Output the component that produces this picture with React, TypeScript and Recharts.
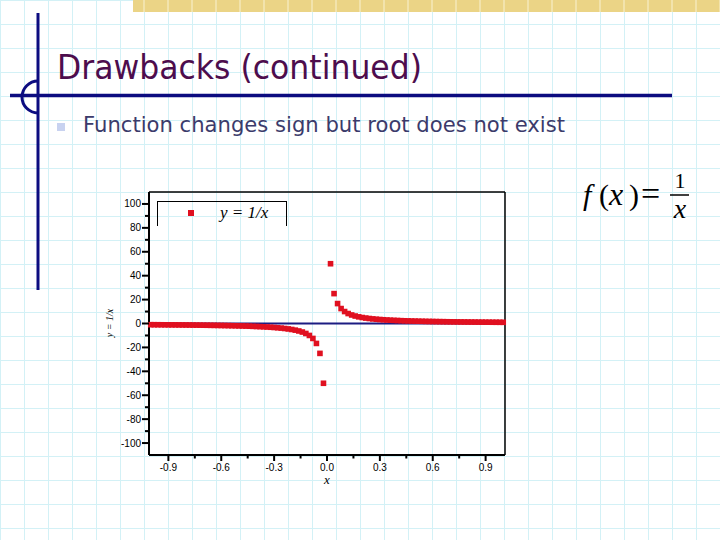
import React from "react";
import { ScatterChart, Scatter, XAxis, YAxis, ReferenceLine, Legend } from "recharts";

const negX = [
  -1, -0.98, -0.96, -0.94, -0.92, -0.9, -0.88, -0.86, -0.84, -0.82,
  -0.8, -0.78, -0.76, -0.74, -0.72, -0.7, -0.68, -0.66, -0.64, -0.62,
  -0.6, -0.58, -0.56, -0.54, -0.52, -0.5, -0.48, -0.46, -0.44, -0.42,
  -0.4, -0.38, -0.36, -0.34, -0.32, -0.3, -0.28, -0.26, -0.24, -0.22,
  -0.2, -0.18, -0.16, -0.14, -0.12, -0.1, -0.08, -0.06, -0.04, -0.02,
];
const negY = [
  -1, -1.02, -1.04, -1.06, -1.09, -1.11, -1.14, -1.16, -1.19, -1.22,
  -1.25, -1.28, -1.32, -1.35, -1.39, -1.43, -1.47, -1.52, -1.56, -1.61,
  -1.67, -1.72, -1.79, -1.85, -1.92, -2, -2.08, -2.17, -2.27, -2.38,
  -2.5, -2.63, -2.78, -2.94, -3.13, -3.33, -3.57, -3.85, -4.17, -4.55,
  -5, -5.56, -6.25, -7.14, -8.33, -10, -12.5, -16.67, -25, -50,
];
const posX = [
  0.02, 0.04, 0.06, 0.08, 0.1, 0.12, 0.14, 0.16, 0.18, 0.2,
  0.22, 0.24, 0.26, 0.28, 0.3, 0.32, 0.34, 0.36, 0.38, 0.4,
  0.42, 0.44, 0.46, 0.48, 0.5, 0.52, 0.54, 0.56, 0.58, 0.6,
  0.62, 0.64, 0.66, 0.68, 0.7, 0.72, 0.74, 0.76, 0.78, 0.8,
  0.82, 0.84, 0.86, 0.88, 0.9, 0.92, 0.94, 0.96, 0.98, 1,
];
const posY = [
  50, 25, 16.67, 12.5, 10, 8.33, 7.14, 6.25, 5.56, 5,
  4.55, 4.17, 3.85, 3.57, 3.33, 3.13, 2.94, 2.78, 2.63, 2.5,
  2.38, 2.27, 2.17, 2.08, 2, 1.92, 1.85, 1.79, 1.72, 1.67,
  1.61, 1.56, 1.52, 1.47, 1.43, 1.39, 1.35, 1.32, 1.28, 1.25,
  1.22, 1.19, 1.16, 1.14, 1.11, 1.09, 1.06, 1.04, 1.02, 1,
];

const xMajorTicks = [-0.9, -0.6, -0.3, 0, 0.3, 0.6, 0.9];
const xMinorTicks = [-0.75, -0.45, -0.15, 0.15, 0.45, 0.75];
const yMajorTicks = [-100, -80, -60, -40, -20, 0, 20, 40, 60, 80, 100];
const yMinorTicks = [-90, -70, -50, -30, -10, 10, 30, 50, 70, 90];

const points = [
  ...negX.map((x, i) => ({ x, y: negY[i] })),
  ...posX.map((x, i) => ({ x, y: posY[i] })),
];

const RED = "#e01020";
const NAVY = "#0c0c80";

function XTick({ x, y, payload }: any) {
  const v = payload.value;
  const major = xMajorTicks.includes(v);
  return (
    <g>
      <line x1={x} x2={x} y1={y} y2={y + (major ? 6 : 3.5)} stroke="#000" strokeWidth={2} />
      {major && (
        <text x={x} y={y + 16} textAnchor="middle" fontSize={10} fontFamily="Liberation Sans" fill="#000">
          {v.toFixed(1)}
        </text>
      )}
    </g>
  );
}

function YTick({ x, y, payload }: any) {
  const v = payload.value;
  const major = yMajorTicks.includes(v);
  return (
    <g>
      <line x1={x} x2={x - (major ? 7 : 4)} y1={y} y2={y} stroke="#000" strokeWidth={2} />
      {major && (
        <text x={x - 8} y={y} dy="0.35em" textAnchor="end" fontSize={10} fontFamily="Liberation Sans" fill="#000">
          {v}
        </text>
      )}
    </g>
  );
}

function Square(props: any) {
  const { cx, cy } = props;
  return <rect x={cx - 2.8} y={cy - 2.8} width={5.6} height={5.6} fill={RED} />;
}

function LegendBox() {
  return (
    <div
      style={{
        position: "relative",
        width: 130,
        height: 25,
        boxSizing: "border-box",
        borderTop: "1.5px solid #000",
        borderLeft: "1.5px solid #000",
        borderRight: "1.5px solid #000",
      }}
    >
      <div style={{ position: "absolute", left: 30, top: 8, width: 6, height: 6, background: RED }} />
      <span
        style={{
          position: "absolute",
          left: 62,
          top: 1,
          fontFamily: "Liberation Serif",
          fontStyle: "italic",
          fontSize: 17,
          color: "#000",
          whiteSpace: "nowrap",
        }}
      >
        y = 1/x
      </span>
    </div>
  );
}

function Slide() {
  return (
    <svg width={720} height={540} style={{ position: "absolute", left: 0, top: 0 }}>
      <rect x={133} y={0} width={587} height={12} fill="#ebd486" />
      {Array.from({ length: 25 }, (_, i) => 144 + i * 24).map((gx) => (
        <line key={gx} x1={gx} x2={gx} y1={0} y2={12} stroke="#f4e8b8" strokeWidth={1.5} />
      ))}
      <line x1={38} x2={38} y1={13} y2={290} stroke={NAVY} strokeWidth={3} />
      <line x1={10} x2={672} y1={95.5} y2={95.5} stroke={NAVY} strokeWidth={3.5} />
      <path d="M 38 81 A 16 16 0 0 0 38 113" fill="none" stroke={NAVY} strokeWidth={3} />
      <text
        x={57}
        y={79}
        fontFamily="DejaVu Sans"
        fontSize={34}
        fill="#4d0d4d"
        textLength={365}
        lengthAdjust="spacingAndGlyphs"
      >
        Drawbacks (continued)
      </text>
      <rect x={57} y={123} width={8} height={8} fill="#c8d2f0" />
      <text
        x={83}
        y={132}
        fontFamily="DejaVu Sans"
        fontSize={22}
        fill="#3b3b6b"
        textLength={482}
        lengthAdjust="spacingAndGlyphs"
      >
        Function changes sign but root does not exist
      </text>
      <g fontFamily="Liberation Serif" fill="#000">
        <text x={583} y={205} fontSize={30} fontStyle="italic">f</text>
        <text x={599} y={205} fontSize={30}>(</text>
        <text x={609} y={205} fontSize={32} fontStyle="italic">x</text>
        <text x={629} y={205} fontSize={30}>)</text>
        <text x={641} y={205} fontSize={34}>=</text>
        <text x={680} y={188} fontSize={22} textAnchor="middle">1</text>
        <line x1={670} x2={689} y1={195} y2={195} stroke="#000" strokeWidth={1.5} />
        <text x={680} y={218} fontSize={28} fontStyle="italic" textAnchor="middle">x</text>
      </g>
      <text
        transform="translate(113 323) rotate(-90)"
        textAnchor="middle"
        fontFamily="Liberation Serif"
        fontStyle="italic"
        fontSize={10}
        fill="#000"
      >
        y = 1/x
      </text>
    </svg>
  );
}

export default function App() {
  return (
    <div
      style={{
        position: "absolute",
        left: 0,
        top: 0,
        width: 720,
        height: 540,
        overflow: "hidden",
        backgroundColor: "#fff",
        backgroundImage:
          "linear-gradient(to right, #d3f1f6 1.5px, transparent 1.5px), linear-gradient(to bottom, #d3f1f6 1.5px, transparent 1.5px)",
        backgroundSize: "24px 24px",
      }}
    >
      <Slide />
      <div style={{ position: "absolute", left: 100, top: 180 }}>
        <ScatterChart width={420} height={310} margin={{ top: 12, right: 15, bottom: 0, left: 0 }}>
          <XAxis
            type="number"
            dataKey="x"
            domain={[-1.01, 1.01]}
            ticks={[...xMajorTicks, ...xMinorTicks].sort((a, b) => a - b)}
            interval={0}
            tick={<XTick />}
            tickSize={0}
            tickMargin={0}
            tickLine={false}
            axisLine={{ stroke: "#000", strokeWidth: 2 }}
            height={35}
            label={{
              value: "x",
              position: "insideBottom",
              offset: 6,
              style: { fontFamily: "Liberation Serif", fontStyle: "italic", fontSize: 13, fill: "#000" },
            }}
          />
          <YAxis
            type="number"
            dataKey="y"
            domain={[-110, 110]}
            ticks={[...yMajorTicks, ...yMinorTicks].sort((a, b) => a - b)}
            interval={0}
            tick={<YTick />}
            tickSize={0}
            tickMargin={0}
            tickLine={false}
            axisLine={{ stroke: "#000", strokeWidth: 2 }}
            width={49}
          />
          <ReferenceLine y={110} stroke="#000" strokeWidth={1.5} />
          <ReferenceLine x={1.01} stroke="#000" strokeWidth={1.5} />
          <Legend
            content={<LegendBox />}
            layout="vertical"
            align="center"
            verticalAlign="middle"
            wrapperStyle={{ left: 57, top: 21, width: 130, height: 25 }}
          />
          <Scatter data={points} shape={<Square />} isAnimationActive={false} />
          <ReferenceLine y={0} stroke="#1c1c82" strokeWidth={2} />
        </ScatterChart>
      </div>
    </div>
  );
}
